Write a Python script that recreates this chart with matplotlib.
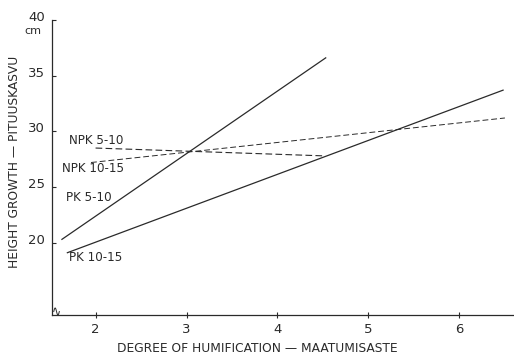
import matplotlib.pyplot as plt
import matplotlib.transforms as mtransforms
import numpy as np

# straight-line fits (x = degree of humification, y = height growth cm)
pk510_x = [1.63, 4.53]
pk510_y = [20.3, 36.6]
pk1015_x = [1.69, 6.48]
pk1015_y = [19.1, 33.7]
npk510_x = [2.0, 4.5]
npk510_y = [28.5, 27.8]
npk1015_x = [1.95, 6.5]
npk1015_y = [27.2, 31.2]

xticks = [2, 3, 4, 5, 6]
yticks = [20, 25, 30, 35, 40]

fig = plt.figure(figsize=(5.14, 3.54), dpi=100)
ax = fig.add_axes([0.101, 0.110, 0.899, 0.8335])

c = '#2a2a2a'
ax.plot(pk510_x, pk510_y, color=c, lw=0.9)
ax.plot(pk1015_x, pk1015_y, color=c, lw=0.9)
ax.plot(npk510_x, npk510_y, color=c, lw=0.8, ls=(0, (6, 3)))
ax.plot(npk1015_x, npk1015_y, color=c, lw=0.7, ls=(0, (6, 3)))

ax.set_xlim(1.52, 6.6)
ax.set_ylim(13.5, 40)
ax.set_xticks(xticks)
ax.set_yticks(yticks)
ax.spines['top'].set_visible(False)
ax.spines['right'].set_visible(False)
for s in ['left', 'bottom']:
    ax.spines[s].set_color(c)
    ax.spines[s].set_linewidth(0.9)
ax.tick_params(axis='both', colors=c, labelsize=9.5, length=3, width=0.8)
ax.tick_params(axis='x', direction='inout', length=5, pad=3)
ax.tick_params(axis='y', direction='in', pad=5)

# y tick labels sit a little above their ticks
up = mtransforms.ScaledTranslation(0, 3 / 72, fig.dpi_scale_trans)
for t in ax.get_yticklabels():
    t.set_transform(t.get_transform() + up)

lbl = dict(fontsize=8.6, color=c, va='center')
ax.text(1.71, 29.2, 'NPK 5-10', **lbl)
ax.text(1.63, 26.7, 'NPK 10-15', **lbl)
ax.text(1.67, 24.1, 'PK 5-10', **lbl)
ax.text(1.71, 18.65, 'PK 10-15', **lbl)

ax.text(-0.022, 0.963, 'cm', transform=ax.transAxes, fontsize=8, color=c, ha='right', va='center')
ax.set_ylabel('HEIGHT GROWTH \u2014 PITUUSKASVU', fontsize=8.8, color=c)
ax.set_xlabel('DEGREE OF HUMIFICATION \u2014 MAATUMISASTE', fontsize=8.8, color=c)
ax.xaxis.set_label_coords(0.445, -0.09)
ax.yaxis.set_label_coords(-0.066, 0.52)

# axis break squiggle at the corner
t = np.linspace(0, 1, 30)
ax.plot(0.004 + 0.012 * t, 0.012 + 0.012 * np.sin(t * 2 * np.pi), color=c, lw=0.7,
        transform=ax.transAxes, clip_on=False)

fig.savefig('out.png', dpi=100)
